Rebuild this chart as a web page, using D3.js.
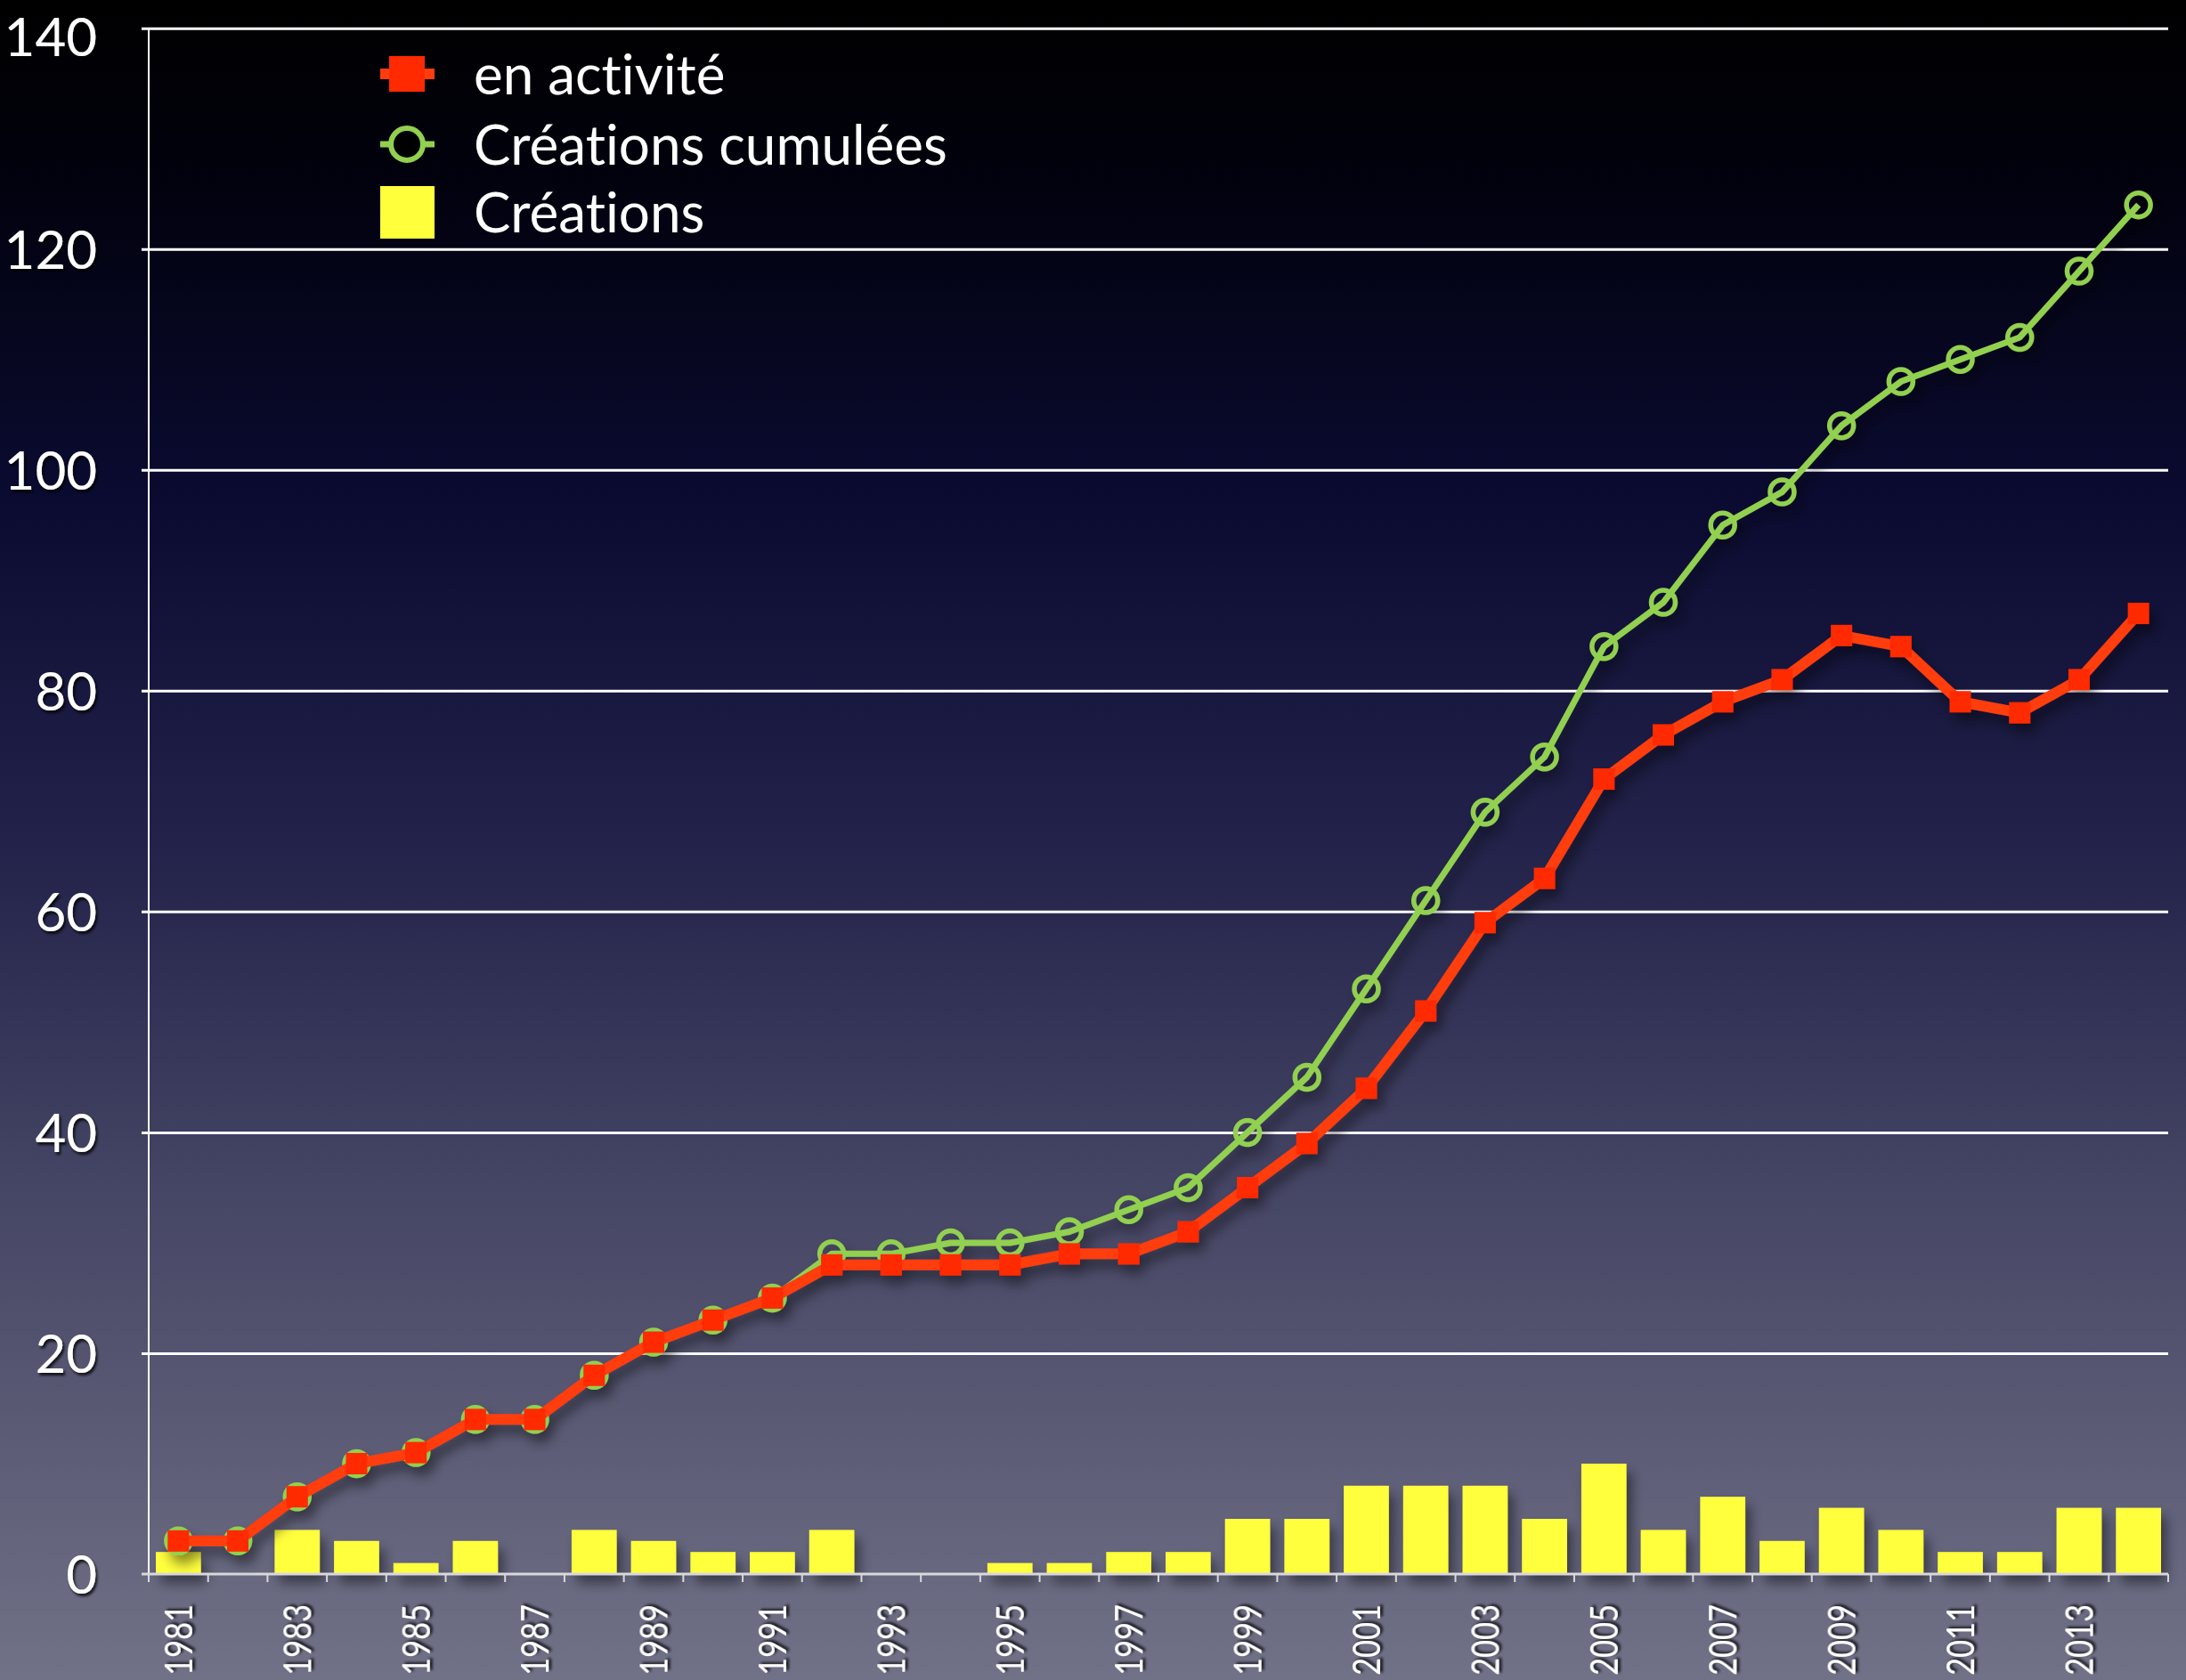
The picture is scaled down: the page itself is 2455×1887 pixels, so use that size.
<!DOCTYPE html>
<html>
<head>
<meta charset="utf-8">
<script src="https://cdn.jsdelivr.net/npm/d3@7"></script>
<style>
  html, body { margin: 0; padding: 0; background: #000; }
  svg { display: block; }
  text { font-family: Lato, "Open Sans", sans-serif; font-variant-ligatures: none; }
</style>
</head>
<body>
<svg id="CHART" width="2455" height="1887"></svg>
<script>
// Data
var years = d3.range(1981, 2015);
var creations = [2, 0, 4, 3, 1, 3, 0, 4, 3, 2, 2, 4, 0, 0, 1, 1, 2, 2, 5, 5,
                 8, 8, 8, 5, 10, 4, 7, 3, 6, 4, 2, 2, 6, 6];
var cumulees = [3, 3, 7, 10, 11, 14, 14, 18, 21, 23, 25, 29, 29, 30, 30, 31, 33, 35, 40, 45,
                53, 61, 69, 74, 84, 88, 95, 98, 104, 108, 110, 112, 118, 124];
var activite = [3, 3, 7, 10, 11, 14, 14, 18, 21, 23, 25, 28, 28, 28, 28, 29, 29, 31, 35, 39,
                44, 51, 59, 63, 72, 76, 79, 81, 85, 84, 79, 78, 81, 87];
var yTicks = [0, 20, 40, 60, 80, 100, 120, 140];
var legendLabels = ["en activité", "Créations cumulées", "Créations"];

var W = 2455, H = 1887;
const PLOT = { LEFT: 167, RIGHT: 2435, TOP: 31.7, BOTTOM: 1768 };

var RED = "#ff2a00", RED_LINE = "#ff3c10", GREEN = "#92d050", YELLOW = "#ffff3c";

let svg = d3.select("#CHART");
let defs = svg.append("defs");

// background gradient
let grad = defs.append("linearGradient").attr("id", "bg")
  .attr("x1", 0).attr("y1", 0).attr("x2", 0).attr("y2", 1);
[[0, "#000000"], [0.12, "#020210"], [0.3, "#0b0b32"], [0.5, "#22224a"],
 [0.72, "#474766"], [1, "#717187"]].forEach(s => {
  grad.append("stop").attr("offset", s[0]).attr("stop-color", s[1]);
});
svg.append("rect").attr("width", W).attr("height", H).attr("fill", "url(#bg)");

// shadows
defs.append("filter").attr("id", "shadow")
  .attr("x", "-10%").attr("y", "-10%").attr("width", "130%").attr("height", "130%")
  .append("feDropShadow").attr("dx", 6).attr("dy", 10).attr("stdDeviation", 7)
  .attr("flood-color", "#000").attr("flood-opacity", 0.45);
defs.append("filter").attr("id", "txtshadow")
  .append("feDropShadow").attr("dx", 2).attr("dy", 3).attr("stdDeviation", 1.5)
  .attr("flood-color", "#000").attr("flood-opacity", 0.8);

// scales
let yScale = d3.scaleLinear().domain([0, 140]).range([PLOT.BOTTOM, PLOT.TOP]);
let xBand = d3.scaleBand().domain(years)
  .range([PLOT.LEFT, PLOT.RIGHT]).paddingInner(0.24).paddingOuter(0.12);
let xPoint = d3.scalePoint().domain(years)
  .range([PLOT.LEFT, PLOT.RIGHT]).padding(0.5);

// y axis + grid
let yAxis = d3.axisLeft(yScale).tickValues(yTicks).tickSize(0).tickPadding(0);
let yG = svg.append("g").attr("transform", `translate(${PLOT.LEFT},0)`).call(yAxis);
yG.select(".domain").remove();
yG.selectAll(".tick line")
  .attr("x1", -8).attr("x2", PLOT.RIGHT - PLOT.LEFT)
  .attr("stroke", "#ffffff").attr("stroke-width", 3);
yG.selectAll(".tick").filter(d => d === 0).select("line").remove();
yG.selectAll(".tick text")
  .attr("x", -58).attr("dy", "0.36em")
  .attr("fill", "#ffffff").attr("font-size", 60)
  .attr("filter", "url(#txtshadow)");
// top label sits against the edge, nudge it down a bit
yG.selectAll(".tick").filter(d => d === 140).select("text").attr("dy", "0.52em");

svg.append("line")
  .attr("x1", PLOT.LEFT).attr("x2", PLOT.LEFT)
  .attr("y1", yScale(140)).attr("y2", yScale(0))
  .attr("stroke", "#ffffff").attr("stroke-width", 2);

// bars (Créations)
svg.append("g").attr("filter", "url(#shadow)")
  .selectAll("rect").data(years).enter().append("rect")
  .attr("x", d => xBand(d))
  .attr("width", xBand.bandwidth())
  .attr("y", (d, i) => yScale(creations[i]))
  .attr("height", (d, i) => yScale(0) - yScale(creations[i]))
  .attr("fill", YELLOW);

// x axis
let xAxisG = svg.append("g");
xAxisG.append("line")
  .attr("x1", PLOT.LEFT - 8).attr("x2", PLOT.RIGHT)
  .attr("y1", yScale(0)).attr("y2", yScale(0))
  .attr("stroke", "#d8d8dc").attr("stroke-width", 3);
xAxisG.selectAll("line.xt").data(d3.range(years.length + 1)).enter().append("line")
  .attr("class", "xt")
  .attr("x1", i => PLOT.LEFT + i * xBand.step())
  .attr("x2", i => PLOT.LEFT + i * xBand.step())
  .attr("y1", yScale(0)).attr("y2", yScale(0) + 9)
  .attr("stroke", "#d8d8dc").attr("stroke-width", 2);

let xAxis = d3.axisBottom(xPoint)
  .tickValues(years.filter(y => y % 2 === 1))
  .tickSize(0).tickFormat(d3.format("d"));
let xG = svg.append("g").attr("transform", `translate(0,${yScale(0)})`).call(xAxis);
xG.select(".domain").remove();
xG.selectAll(".tick text")
  .attr("y", 0).attr("dy", "0.36em")
  .attr("transform", "translate(0,34) rotate(-90)")
  .style("text-anchor", "end")
  .attr("textLength", 80).attr("lengthAdjust", "spacingAndGlyphs")
  .attr("fill", "#ffffff").attr("font-size", 43)
  .attr("filter", "url(#txtshadow)");

// lines
let lineGen = vals => d3.line()
  .x((d, i) => xPoint(years[i]))
  .y(d => yScale(d))(vals);

let linesG = svg.append("g").attr("filter", "url(#shadow)");

linesG.append("path").attr("d", lineGen(cumulees))
  .attr("fill", "none").attr("stroke", GREEN).attr("stroke-width", 7)
  .attr("stroke-linejoin", "round");
linesG.selectAll("circle").data(cumulees).enter().append("circle")
  .attr("cx", (d, i) => xPoint(years[i]))
  .attr("cy", d => yScale(d))
  .attr("r", 13.5)
  .attr("fill", "none").attr("stroke", GREEN).attr("stroke-width", 5.5);

linesG.append("path").attr("d", lineGen(activite))
  .attr("fill", "none").attr("stroke", RED_LINE).attr("stroke-width", 12)
  .attr("stroke-linejoin", "round");
linesG.selectAll("rect.sq").data(activite).enter().append("rect")
  .attr("class", "sq")
  .attr("x", (d, i) => xPoint(years[i]) - 12)
  .attr("y", d => yScale(d) - 12)
  .attr("width", 24).attr("height", 24)
  .attr("fill", RED);

// legend
let legend = svg.append("g");
let rowY = [83, 162, 238];
let mx = 457;

legend.append("line").attr("x1", 427).attr("x2", 488)
  .attr("y1", rowY[0]).attr("y2", rowY[0])
  .attr("stroke", RED_LINE).attr("stroke-width", 12);
legend.append("rect").attr("x", mx - 20).attr("y", rowY[0] - 20)
  .attr("width", 40).attr("height", 40).attr("fill", RED);

legend.append("line").attr("x1", 427).attr("x2", 488)
  .attr("y1", rowY[1]).attr("y2", rowY[1])
  .attr("stroke", GREEN).attr("stroke-width", 7);
legend.append("circle").attr("cx", mx).attr("cy", rowY[1]).attr("r", 18)
  .attr("fill", "#000").attr("stroke", GREEN).attr("stroke-width", 6);

legend.append("rect").attr("x", 427).attr("y", rowY[2] - 29)
  .attr("width", 61).attr("height", 59).attr("fill", YELLOW);

legend.selectAll("text").data(legendLabels).enter().append("text")
  .attr("x", 532).attr("y", (d, i) => rowY[i] + 23)
  .attr("fill", "#ffffff").attr("font-size", 62)
  .text(d => d);
</script>
</body>
</html>
